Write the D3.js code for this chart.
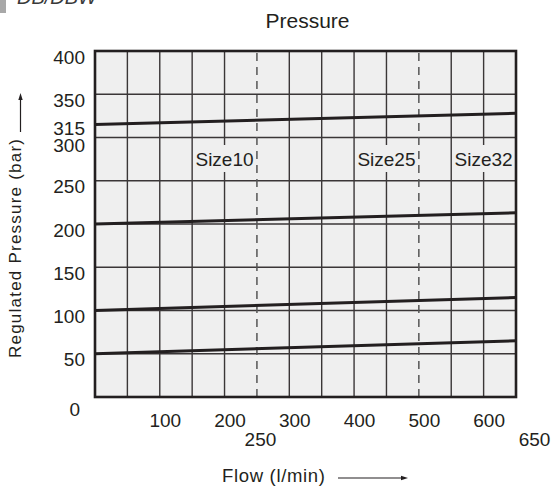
<!DOCTYPE html>
<html>
<head>
<meta charset="utf-8">
<script src="https://cdn.jsdelivr.net/npm/d3@7"></script>
<style>
body { margin: 0; background: #fff; }
text { font-family: "Liberation Sans", Arial, sans-serif; fill: #231f20; }
</style>
</head>
<body>
<script>
// flow (l/min) at the two ends of each pressure line
var flow = [0, 650];
var line315 = [315, 328];
var line200 = [200, 213];
var line100 = [100, 115];
var line50 = [50, 65];
var series = [line315, line200, line100, line50];

var yTicks = [0, 50, 100, 150, 200, 250, 300, 315, 350, 400];
var xTicks = [100, 200, 250, 300, 400, 500, 600, 650];
var gridX = [50, 100, 150, 200, 250, 300, 350, 400, 450, 500, 550, 600];
var gridY = [50, 100, 150, 200, 250, 300, 350];
var dashedAt = [250, 500];
var sizeNames = ["Size10", "Size25", "Size32"];
var sizeFlow = [200, 450, 600];

var W = 555, H = 488;
var svg = d3.select("body").append("svg")
	.attr("width", W)
	.attr("height", H);

var x = d3.scaleLinear().domain([0, 650]).range([95, 516]);
var y = d3.scaleLinear().domain([0, 400]).range([397, 51]);

// cut-off header top left
svg.append("rect")
	.attr("x", 0).attr("y", 0)
	.attr("width", 6).attr("height", 13)
	.attr("fill", "#a8a8a8");
svg.append("text")
	.attr("x", 17).attr("y", 4)
	.style("font-size", "20px")
	.style("font-style", "italic")
	.style("fill", "#3a3a3a")
	.text("DB/DBW");

svg.append("text")
	.attr("x", 307.5).attr("y", 28)
	.attr("text-anchor", "middle")
	.style("font-size", "21px")
	.text("Pressure");

// plot background
svg.append("rect")
	.attr("x", x(0)).attr("y", y(400))
	.attr("width", x(650) - x(0))
	.attr("height", y(0) - y(400))
	.attr("fill", "#efefef");

// grid
svg.append("g").selectAll("line")
	.data(gridY)
	.join("line")
	.attr("x1", x(0)).attr("x2", x(650))
	.attr("y1", d => y(d)).attr("y2", d => y(d))
	.attr("stroke", "#3a3637")
	.attr("stroke-width", 1.4);

svg.append("g").selectAll("line")
	.data(gridX)
	.join("line")
	.attr("x1", d => x(d)).attr("x2", d => x(d))
	.attr("y1", y(0)).attr("y2", y(400))
	.attr("stroke", d => dashedAt.includes(d) ? "#555" : "#3a3637")
	.attr("stroke-width", d => dashedAt.includes(d) ? 1.5 : 1.4)
	.attr("stroke-dasharray", d => dashedAt.includes(d) ? "8,6" : null);

// size labels (break the grid line under them)
var sizeG = svg.append("g");
sizeNames.forEach(function(name, i) {
	var t = sizeG.append("text")
		.attr("x", x(sizeFlow[i]))
		.attr("y", 166)
		.attr("text-anchor", "middle")
		.style("font-size", "19px")
		.text(name);
	var bb = t.node().getBBox();
	sizeG.insert("rect", "text")
		.attr("x", bb.x + 4).attr("y", 145)
		.attr("width", bb.width - 8).attr("height", 27)
		.attr("fill", "#efefef");
});

// pressure lines
var line = d3.line()
	.x((d, i) => x(flow[i]))
	.y(d => y(d));
svg.append("g").selectAll("path")
	.data(series)
	.join("path")
	.attr("d", line)
	.attr("fill", "none")
	.attr("stroke", "#231f20")
	.attr("stroke-width", 3);

// border
svg.append("rect")
	.attr("x", x(0)).attr("y", y(400))
	.attr("width", x(650) - x(0))
	.attr("height", y(0) - y(400))
	.attr("fill", "none")
	.attr("stroke", "#231f20")
	.attr("stroke-width", 2.6);

// y axis labels
var yAxis = svg.append("g")
	.attr("transform", "translate(" + x(0) + ",0)")
	.call(d3.axisLeft(y).tickValues(yTicks).tickSize(0).tickPadding(10));
yAxis.select(".domain").remove();
yAxis.selectAll("text")
	.style("font-size", "19px")
	.attr("dy", d => d == 0 ? 18 : (d == 300 ? 14 : (d == 315 ? 9.5 : 12)))
	.attr("x", d => d == 0 ? -15 : -10);

// x axis labels
var xAxis = svg.append("g")
	.attr("transform", "translate(0," + y(0) + ")")
	.call(d3.axisBottom(x).tickValues(xTicks).tickSize(0));
xAxis.select(".domain").remove();
xAxis.selectAll("text")
	.style("font-size", "19px")
	.attr("dy", 0)
	.attr("y", d => (d == 250 || d == 650) ? 49 : 30)
	.attr("dx", d => d == 650 ? 18 : (d == 250 ? 3 : 5));

// axis titles
svg.append("text")
	.attr("x", 222).attr("y", 482)
	.attr("textLength", 103)
	.style("font-size", "18.5px")
	.text("Flow (l/min)");
svg.append("line")
	.attr("x1", 338).attr("x2", 402)
	.attr("y1", 478).attr("y2", 478)
	.attr("stroke", "#231f20").attr("stroke-width", 1.2);
svg.append("path")
	.attr("d", "M401,475.8 L408,478 L401,480.2 Z")
	.attr("fill", "#231f20");

svg.append("text")
	.attr("transform", "translate(21,248.5) rotate(-90)")
	.attr("text-anchor", "middle")
	.attr("textLength", 219)
	.style("font-size", "17px")
	.text("Regulated Pressure (bar)");
svg.append("line")
	.attr("x1", 20.5).attr("x2", 20.5)
	.attr("y1", 132).attr("y2", 99)
	.attr("stroke", "#231f20").attr("stroke-width", 1.2);
svg.append("path")
	.attr("d", "M18.3,100 L20.5,93 L22.7,100 Z")
	.attr("fill", "#231f20");
</script>
</body>
</html>
